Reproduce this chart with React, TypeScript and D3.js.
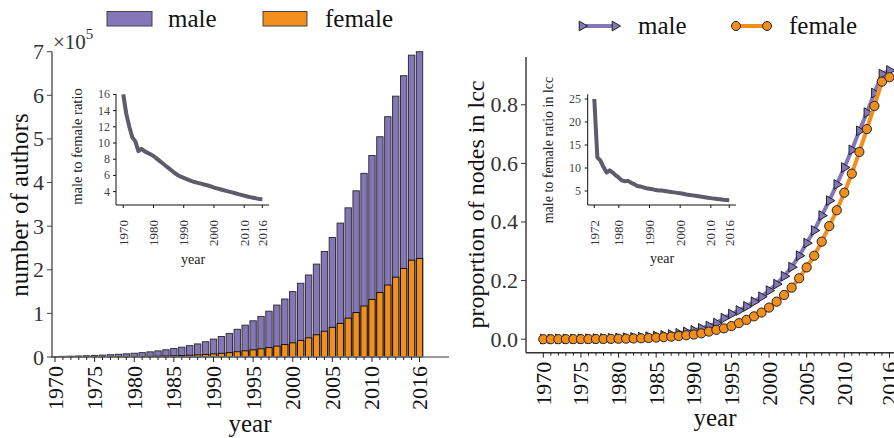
import React from 'react';
import * as d3 from 'd3';

const years = [1970,1971,1972,1973,1974,1975,1976,1977,1978,1979,1980,1981,1982,1983,1984,1985,1986,1987,1988,1989,1990,1991,1992,1993,1994,1995,1996,1997,1998,1999,2000,2001,2002,2003,2004,2005,2006,2007,2008,2009,2010,2011,2012,2013,2014,2015,2016];

const maleAuthors = [1200,1500,1900,2400,2900,3600,4300,5200,6200,7300,8600,10000,11800,14000,16500,19500,22500,26000,30000,35000,41000,47000,54000,63500,73000,83000,93000,105000,119000,133000,150000,169000,188000,213000,242000,274000,307000,342000,381000,421000,462000,505000,551000,598000,645000,692000,700000];

const femaleAuthors = [75,110,160,225,285,400,460,580,700,850,1020,1230,1510,1870,2290,2830,3400,4100,4950,5950,7200,8450,10000,12100,14200,16400,18800,21600,25000,28500,32500,38000,44000,51000,59000,68000,77000,89000,102000,117000,132000,148000,165000,183000,203000,222000,226000];

const authorRatio = [16.0,13.6,12.0,10.7,10.2,9.0,9.3,9.0,8.8,8.6,8.4,8.1,7.8,7.5,7.2,6.9,6.6,6.3,6.05,5.85,5.7,5.55,5.4,5.25,5.15,5.05,4.95,4.85,4.75,4.65,4.5,4.4,4.3,4.2,4.1,4.0,3.9,3.8,3.7,3.6,3.5,3.4,3.32,3.25,3.17,3.1,3.05];

const lccRatioYears = [1972,1973,1974,1975,1976,1977,1978,1979,1980,1981,1982,1983,1984,1985,1986,1987,1988,1989,1990,1991,1992,1993,1994,1995,1996,1997,1998,1999,2000,2001,2002,2003,2004,2005,2006,2007,2008,2009,2010,2011,2012,2013,2014,2015,2016];
const lccRatio = [25.0,12.3,11.6,10.2,9.0,9.5,9.0,8.4,7.9,7.3,7.1,7.2,6.8,6.5,6.1,6.0,5.8,5.6,5.5,5.4,5.2,5.1,5.1,5.0,4.9,4.8,4.7,4.6,4.5,4.4,4.25,4.15,4.05,3.95,3.85,3.75,3.65,3.55,3.45,3.35,3.27,3.2,3.12,3.06,3.0];

const maleLcc = [0.0005,0.0006,0.0008,0.001,0.0012,0.0015,0.0018,0.0022,0.0027,0.0033,0.004,0.005,0.006,0.0072,0.0088,0.011,0.013,0.016,0.02,0.025,0.03,0.037,0.045,0.055,0.072,0.086,0.098,0.112,0.128,0.145,0.166,0.188,0.215,0.246,0.285,0.328,0.371,0.422,0.473,0.528,0.586,0.646,0.711,0.773,0.84,0.905,0.917];

const femaleLcc = [0.0,0.0,0.0001,0.0002,0.0003,0.0004,0.0005,0.0007,0.0009,0.0012,0.0016,0.002,0.0026,0.0033,0.0042,0.0055,0.007,0.0088,0.011,0.0135,0.016,0.02,0.026,0.032,0.037,0.045,0.055,0.066,0.078,0.091,0.108,0.128,0.151,0.176,0.208,0.245,0.285,0.333,0.386,0.44,0.5,0.565,0.639,0.717,0.796,0.879,0.894];

const mainYearTicks = [1970,1975,1980,1985,1990,1995,2000,2005,2010,2016];
const insetYearTicksA = [1970,1980,1990,2000,2010,2016];
const insetYearTicksB = [1972,1980,1990,2000,2010,2016];
const authorTicks = [0,100000,200000,300000,400000,500000,600000,700000];
const lccTicks = [0,0.2,0.4,0.6,0.8];
const ratioTicksA = [4,6,8,10,12,14,16];
const ratioTicksB = [5,10,15,20,25];

const PURPLE = '#8377b9';
const ORANGE = '#f28e1c';
const INSET = '#5f5b6b';
const FONT = '"Liberation Serif", "Times New Roman", serif';

function triPath(r: number) {
  return `M${r},0L${-r / 2},${r * 0.866}L${-r / 2},${-r * 0.866}Z`;
}

export default function App() {
  // Left main panel
  const xL = d3.scaleLinear().domain([1969.62, 2019.72]).range([52, 449]);
  const yL = d3.scaleLinear().domain([0, 700000]).range([357, 51.7]);
  const bw = 0.8 * (xL(1971) - xL(1970));

  // Left inset
  const xA = d3.scaleLinear().domain([1967.6, 2018.2]).range([116, 269]);
  const yA = d3.scaleLinear().domain([2.35, 16.05]).range([205, 94]);
  const lineA = d3.line<number>().x((_, i) => xA(years[i])).y((d) => yA(d));

  // Right main panel
  const xR = d3.scaleLinear().domain([1967.7, 2019.5]).range([526, 526 + 51.8 * 7.525]);
  const yR = d3.scaleLinear().domain([-0.046, 0.963]).range([352.7, 57]);
  const lineM = d3.line<number>().x((_, i) => xR(years[i])).y((d) => yR(d)).curve(d3.curveLinear);

  // Right inset
  const xB = d3.scaleLinear().domain([1969.85, 2018.2]).range([587.7, 736]);
  const yB = d3.scaleLinear().domain([1.96, 26.02]).range([205, 94.3]);
  const lineB = d3.line<number>().x((_, i) => xB(lccRatioYears[i])).y((d) => yB(d));

  const tri = triPath(5.6);

  return (
    <svg width={894} height={438} style={{ position: 'absolute', left: 0, top: 0, background: '#fff' }} fontFamily={FONT}>
      {/* ============ LEFT PANEL ============ */}
      {/* legend */}
      <rect x={107} y={11.5} width={45} height={14.5} fill={PURPLE} stroke="#444" strokeWidth={1} />
      <text x={168} y={26.5} fontSize={25} fill="#111">male</text>
      <rect x={263} y={11.5} width={44} height={14.5} fill={ORANGE} stroke="#444" strokeWidth={1} />
      <text x={325} y={26.5} fontSize={25} fill="#111">female</text>

      {/* bars */}
      {years.map((yr, i) => (
        <rect key={'m' + yr} x={xL(yr) - bw / 2} y={yL(maleAuthors[i])} width={bw} height={yL(0) - yL(maleAuthors[i])}
          fill={PURPLE} stroke="#333" strokeWidth={1} />
      ))}
      {years.map((yr, i) => (
        <rect key={'f' + yr} x={xL(yr) - bw / 2} y={yL(femaleAuthors[i])} width={bw} height={yL(0) - yL(femaleAuthors[i])}
          fill={ORANGE} stroke="#111" strokeWidth={1} />
      ))}

      {/* axes */}
      <line x1={52} x2={52} y1={yL(700000)} y2={yL(0)} stroke="#444" strokeWidth={1.3} />
      <line x1={52} x2={449} y1={yL(0)} y2={yL(0)} stroke="#777" strokeWidth={1.6} />
      {authorTicks.map((t) => (
        <g key={'yt' + t}>
          <line x1={47} x2={52} y1={yL(t)} y2={yL(t)} stroke="#444" strokeWidth={1} />
          <text x={44} y={yL(t)} textAnchor="end" dominantBaseline="central" fontSize={22} fill="#333">{t / 100000}</text>
        </g>
      ))}
      <text x={53} y={49} fontSize={21} fill="#333">×10<tspan fontSize={15} dy={-10}>5</tspan></text>
      {years.map((yr) => (
        <line key={'mt' + yr} x1={xL(yr)} x2={xL(yr)} y1={yL(0)} y2={yL(0) + (mainYearTicks.includes(yr) ? 5 : 3)} stroke="#222" strokeWidth={1} />
      ))}
      {mainYearTicks.map((yr) => (
        <text key={'xl' + yr} transform={`translate(${xL(yr)},${yL(0) + 9}) rotate(-90)`} textAnchor="end" dominantBaseline="central" fontSize={22} fill="#111">{yr}</text>
      ))}
      <text x={250} y={432} textAnchor="middle" fontSize={25} fill="#111">year</text>
      <text transform="translate(28,205) rotate(-90)" textAnchor="middle" fontSize={25} fill="#111">number of authors</text>

      {/* left inset */}
      <path d={lineA(authorRatio) || ''} fill="none" stroke={INSET} strokeWidth={4} strokeLinejoin="round" strokeLinecap="butt" />
      <line x1={116} x2={116} y1={94} y2={205} stroke="#111" strokeWidth={1} />
      <line x1={116} x2={269} y1={205} y2={205} stroke="#111" strokeWidth={1} />
      {ratioTicksA.map((t) => (
        <g key={'ra' + t}>
          <line x1={113} x2={116} y1={yA(t)} y2={yA(t)} stroke="#111" strokeWidth={1} />
          <text x={110} y={yA(t)} textAnchor="end" dominantBaseline="central" fontSize={12} fill="#444">{t}</text>
        </g>
      ))}
      {insetYearTicksA.map((yr) => (
        <g key={'xa' + yr}>
          <line x1={xA(yr)} x2={xA(yr)} y1={205} y2={208} stroke="#111" strokeWidth={1} />
          <text transform={`translate(${xA(yr)},${220}) rotate(-90)`} textAnchor="end" dominantBaseline="central" fontSize={13} fill="#333">{yr}</text>
        </g>
      ))}
      <text x={193} y={264} textAnchor="middle" fontSize={14} fill="#222">year</text>
      <text transform="translate(82,146.5) rotate(-90)" textAnchor="middle" fontSize={14.5} fill="#222">male to female ratio</text>

      {/* ============ RIGHT PANEL ============ */}
      {/* legend */}
      <line x1={582} x2={615} y1={26} y2={26} stroke={PURPLE} strokeWidth={4} />
      <path d={tri} transform="translate(582,26)" fill={PURPLE} stroke="#222" strokeWidth={1} />
      <path d={tri} transform="translate(615,26)" fill={PURPLE} stroke="#222" strokeWidth={1} />
      <text x={638} y={33.5} fontSize={25} fill="#111">male</text>
      <line x1={736} x2={767} y1={26} y2={26} stroke={ORANGE} strokeWidth={4} />
      <circle cx={736} cy={26} r={4.5} fill={ORANGE} stroke="#222" strokeWidth={1} />
      <circle cx={767} cy={26} r={4.5} fill={ORANGE} stroke="#222" strokeWidth={1} />
      <text x={789} y={33.5} fontSize={25} fill="#111">female</text>

      {/* lines */}
      <path d={lineM(maleLcc) || ''} fill="none" stroke={PURPLE} strokeWidth={4} strokeLinejoin="round" />
      {years.map((yr, i) => (
        <path key={'tm' + yr} d={tri} transform={`translate(${xR(yr)},${yR(maleLcc[i])})`} fill={PURPLE} stroke="#222" strokeWidth={1} />
      ))}
      <path d={lineM(femaleLcc) || ''} fill="none" stroke={ORANGE} strokeWidth={4} strokeLinejoin="round" />
      {years.map((yr, i) => (
        <circle key={'cf' + yr} cx={xR(yr)} cy={yR(femaleLcc[i])} r={4.6} fill={ORANGE} stroke="#222" strokeWidth={1} />
      ))}

      {/* axes */}
      <line x1={526} x2={526} y1={57} y2={352.7} stroke="#333" strokeWidth={1.4} />
      <line x1={526} x2={894} y1={352.7} y2={352.7} stroke="#333" strokeWidth={1.4} />
      {lccTicks.map((t) => (
        <g key={'lt' + t}>
          <line x1={521} x2={526} y1={yR(t)} y2={yR(t)} stroke="#333" strokeWidth={1} />
          <text x={518} y={yR(t)} textAnchor="end" dominantBaseline="central" fontSize={22} fill="#333">{t.toFixed(1)}</text>
        </g>
      ))}
      {years.map((yr) => (
        <line key={'rmt' + yr} x1={xR(yr)} x2={xR(yr)} y1={352.7} y2={352.7 + (mainYearTicks.includes(yr) ? 5 : 3)} stroke="#222" strokeWidth={1} />
      ))}
      {mainYearTicks.map((yr) => (
        <text key={'xr' + yr} transform={`translate(${xR(yr)},${352.7 + 9}) rotate(-90)`} textAnchor="end" dominantBaseline="central" fontSize={22} fill="#111">{yr}</text>
      ))}
      <text x={715} y={426} textAnchor="middle" fontSize={25} fill="#111">year</text>
      <text transform="translate(484,204.5) rotate(-90)" textAnchor="middle" fontSize={24} fill="#111">proportion of nodes in lcc</text>

      {/* right inset */}
      <path d={lineB(lccRatio) || ''} fill="none" stroke={INSET} strokeWidth={4} strokeLinejoin="round" />
      <line x1={587.7} x2={587.7} y1={94.3} y2={205} stroke="#111" strokeWidth={1} />
      <line x1={587.7} x2={736} y1={205} y2={205} stroke="#111" strokeWidth={1} />
      {ratioTicksB.map((t) => (
        <g key={'rb' + t}>
          <line x1={584.7} x2={587.7} y1={yB(t)} y2={yB(t)} stroke="#111" strokeWidth={1} />
          <text x={581} y={yB(t)} textAnchor="end" dominantBaseline="central" fontSize={12} fill="#444">{t}</text>
        </g>
      ))}
      {insetYearTicksB.map((yr) => (
        <g key={'xb' + yr}>
          <line x1={xB(yr)} x2={xB(yr)} y1={205} y2={208} stroke="#111" strokeWidth={1} />
          <text transform={`translate(${xB(yr)},${220}) rotate(-90)`} textAnchor="end" dominantBaseline="central" fontSize={13} fill="#333">{yr}</text>
        </g>
      ))}
      <text x={662} y={263} textAnchor="middle" fontSize={14} fill="#222">year</text>
      <text transform="translate(553,150) rotate(-90)" textAnchor="middle" fontSize={14} fill="#222">male to female ratio in lcc</text>
    </svg>
  );
}
